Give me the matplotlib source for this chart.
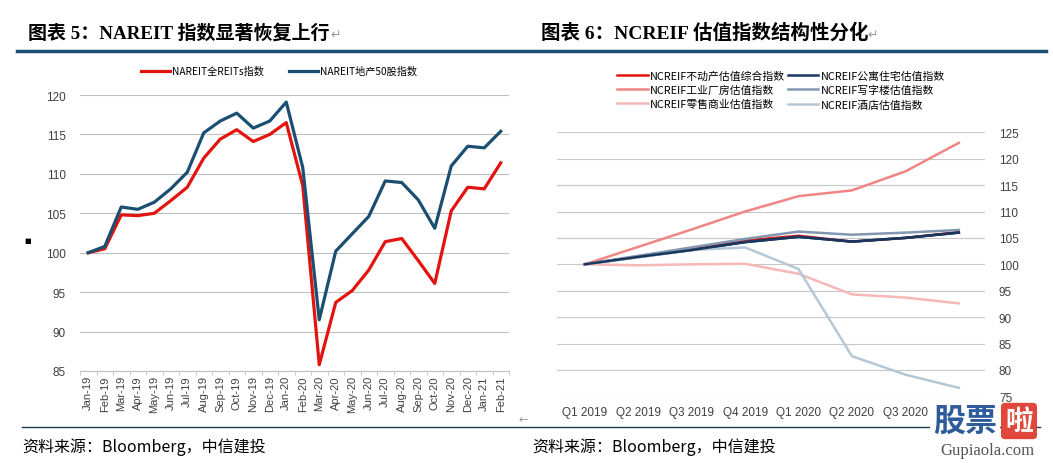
import matplotlib.pyplot as plt
import numpy as np

# DATA
months = ['Jan-19', 'Feb-19', 'Mar-19', 'Apr-19', 'May-19', 'Jun-19', 'Jul-19', 'Aug-19', 'Sep-19',
          'Oct-19', 'Nov-19', 'Dec-19', 'Jan-20', 'Feb-20', 'Mar-20', 'Apr-20', 'May-20', 'Jun-20',
          'Jul-20', 'Aug-20', 'Sep-20', 'Oct-20', 'Nov-20', 'Dec-20', 'Jan-21', 'Feb-21']
nareit_all = [100, 100.5, 104.8, 104.7, 105.0, 106.6, 108.3, 112.0, 114.4, 115.6, 114.1, 115.0, 116.5,
              108.5, 85.8, 93.7, 95.2, 97.8, 101.4, 101.8, 99.0, 96.1, 105.3, 108.3, 108.1, 111.4]
nareit_re50 = [100, 100.8, 105.8, 105.5, 106.4, 108.1, 110.2, 115.2, 116.7, 117.7, 115.8, 116.7, 119.1,
               110.8, 91.5, 100.2, 102.4, 104.6, 109.1, 108.9, 106.7, 103.1, 111.0, 113.5, 113.3, 115.4]

quarters = ['Q1 2019', 'Q2 2019', 'Q3 2019', 'Q4 2019', 'Q1 2020', 'Q2 2020', 'Q3 2020', 'Q4 2020']
ncreif_all = [100, 101.5, 102.9, 104.5, 105.4, 104.3, 105.0, 106.1]
ncreif_apartment = [100, 101.4, 102.7, 104.2, 105.2, 104.3, 105.0, 106.0]
ncreif_industrial = [100, 103.3, 106.6, 110.0, 112.9, 114.0, 117.6, 123.0]
ncreif_office = [100, 101.6, 103.2, 104.8, 106.2, 105.6, 106.0, 106.5]
ncreif_retail = [100, 99.8, 100.0, 100.1, 98.2, 94.3, 93.7, 92.6]
ncreif_hotel = [100, 101.3, 102.7, 103.2, 99.1, 82.6, 79.1, 76.6]

CJK = ['Noto Sans CJK SC', 'DejaVu Sans']
TITLE_FONT = ['Liberation Serif', 'Noto Sans CJK SC', 'DejaVu Sans']
NAVY = '#1B4F72'
W, H = 1053, 464

fig = plt.figure(figsize=(W / 100, H / 100), dpi=100)
fig.patch.set_facecolor('white')

def px(x, y):
    return x / W, 1 - y / H

# TITLES AND FRAME LINES
fig.text(*px(28, 33), '图表 5：NAREIT 指数显著恢复上行', family=TITLE_FONT, fontsize=13.7,
         fontweight='bold', va='center', ha='left', color='black')
fig.text(*px(541, 33), '图表 6：NCREIF 估值指数结构性分化', family=TITLE_FONT, fontsize=14,
         fontweight='bold', va='center', ha='left', color='black')
fig.text(*px(336, 35), '↵', fontsize=9, color='#999999', va='center', ha='center')
fig.text(*px(873, 35), '↵', fontsize=9, color='#999999', va='center', ha='center')
fig.add_artist(plt.Line2D([17 / W, 1046 / W], [1 - 52 / H] * 2, color=NAVY, lw=2.5))
fig.add_artist(plt.Line2D([22 / W, 1040 / W], [1 - 428 / H] * 2, color='#1F3A4F', lw=1))

for x0 in (22, 532):
    fig.text(*px(x0, 447), '资料来源：Bloomberg，中信建投', family=CJK, fontsize=11.5,
             style='italic', va='center', ha='left', color='black')
fig.text(*px(523, 420), '←', fontsize=8, color='#999999', ha='center', va='center')
fig.text(*px(28, 241), '■', fontsize=5, color='black', ha='center', va='center')

# LEFT CHART
ax1 = fig.add_axes([80 / W, 1 - 372 / H, 429 / W, 276 / H])
x1 = np.arange(len(months))
ax1.plot(x1, nareit_all, color='#E3140F', lw=2.3, label='NAREIT全REITs指数')
ax1.plot(x1, nareit_re50, color=NAVY, lw=2.3, label='NAREIT地产50股指数')
ax1.set_yticks(range(85, 121, 5))
ax1.set_xticks(x1)
ax1.set_xticklabels(months, rotation=90, fontsize=8, color='#404040', family='Liberation Sans')
ax1.set_xticks(np.arange(-0.5, 25.6, 1), minor=True)
ax1.set_xlim(-0.5, 25.5)
ax1.set_ylim(85, 120)
ax1.tick_params(axis='x', which='major', length=0, pad=3)
ax1.tick_params(axis='x', which='minor', length=3, color='#BFBFBF')
ax1.tick_params(axis='y', length=0, labelsize=8.5, labelcolor='#404040', pad=10)
for lab in ax1.get_yticklabels():
    lab.set_family('Liberation Sans')
ax1.grid(axis='y', color='#BFBFBF', lw=0.8)
for s in ['top', 'right', 'left']:
    ax1.spines[s].set_visible(False)
ax1.spines['bottom'].set_color('#BFBFBF')
ax1.set_axisbelow(True)
fig.legend(handles=ax1.get_lines(), loc='center', bbox_to_anchor=px(279, 72), ncol=2,
           frameon=False, prop={'family': CJK, 'size': 7.3}, handlelength=2.8, columnspacing=2.5,
           handletextpad=0.2)

# RIGHT CHART
ax2 = fig.add_axes([557 / W, 1 - 397.3 / H, 428 / W, 264 / H])
x2 = np.arange(len(quarters))
series = [
    (ncreif_all, '#E3140F', 'NCREIF不动产估值综合指数'),
    (ncreif_apartment, '#17375E', 'NCREIF公寓住宅估值指数'),
    (ncreif_industrial, '#F08584', 'NCREIF工业厂房估值指数'),
    (ncreif_office, '#8497B0', 'NCREIF写字楼估值指数'),
    (ncreif_retail, '#F6B8B8', 'NCREIF零售商业估值指数'),
    (ncreif_hotel, '#B6C7D6', 'NCREIF酒店估值指数'),
]
handles = []
for vals, col, name in series:
    h, = ax2.plot(x2, vals, color=col, lw=1.8, label=name)
    handles.append(h)
ax2.plot(x2, ncreif_apartment, color='#17375E', lw=1.8)
ax2.set_yticks(range(75, 126, 5))
ax2.yaxis.tick_right()
ax2.set_xticks(x2)
ax2.set_xticklabels(quarters, fontsize=8.5, color='#404040', family='Liberation Sans')
ax2.set_xlim(-0.52, 7.49)
ax2.set_ylim(75, 125)
ax2.tick_params(axis='both', length=0)
ax2.tick_params(axis='x', pad=7)
ax2.tick_params(axis='y', labelsize=8.5, labelcolor='#404040', pad=10)
for lab in ax2.get_yticklabels():
    lab.set_family('Liberation Sans')
ax2.grid(axis='y', color='#C8C8C8', lw=0.8)
for s in ax2.spines.values():
    s.set_visible(False)
ax2.set_axisbelow(True)
order = [0, 2, 4, 1, 3, 5]
fig.legend(handles=[handles[i] for i in order], loc='center', bbox_to_anchor=px(781, 91), ncol=2,
           frameon=False, prop={'family': CJK, 'size': 7.8}, handlelength=2.8, columnspacing=0.3,
           handletextpad=0.2, labelspacing=0.35)

# WATERMARK
fig.text(*px(965, 422), '股票', family=CJK, fontsize=23, fontweight='bold', color='#2E5C9A',
         ha='center', va='center', bbox=dict(facecolor='white', edgecolor='none', pad=2))
fig.text(*px(1019, 422), '啦', family=CJK, fontsize=20, fontweight='bold', color='white',
         ha='center', va='center',
         bbox=dict(boxstyle='round,pad=0.15', facecolor='#E0463A', edgecolor='none'))
fig.text(*px(987, 451), 'Gupiaola.com', family='Liberation Serif', fontsize=12,
         color='#555555', ha='center', va='center')

fig.savefig('out.png', dpi=100)
